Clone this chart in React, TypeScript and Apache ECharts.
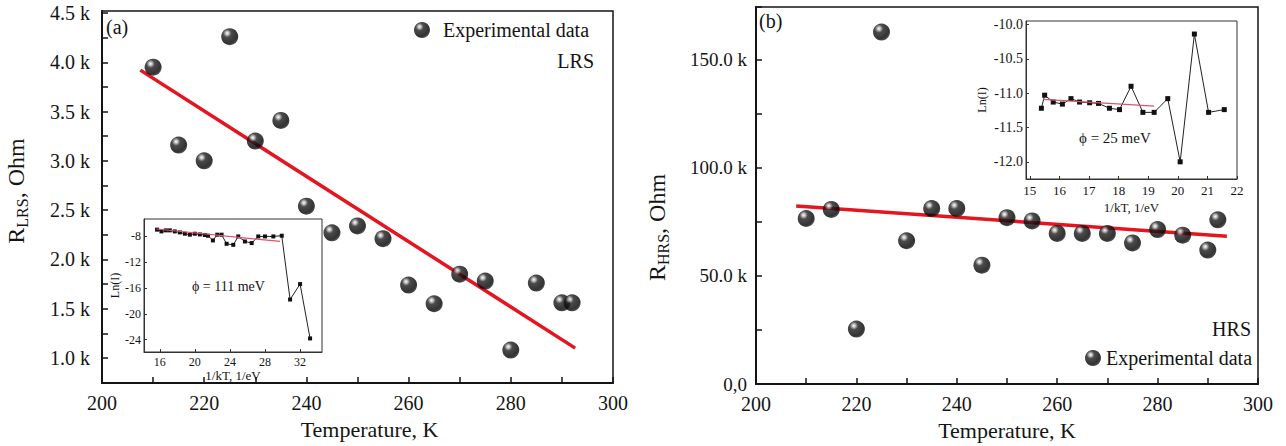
import React, { useEffect, useRef } from "react";
import * as echarts from "echarts";

// ---- Panel (a): LRS ----
const T_LRS = [210, 215, 220, 225, 230, 235, 240, 245, 250, 255, 260, 265, 270, 275, 280, 285, 290, 292];
const R_LRS = [3950, 3160, 3000, 4260, 3200, 3410, 2540, 2270, 2340, 2210, 1740, 1550, 1850, 1780, 1080, 1760, 1560, 1560];
const FIT_LRS_T = [207.5, 292.6];
const FIT_LRS_R = [3920, 1100];

// inset (a)
const INV_KT_A = [15.69, 16.19, 16.69, 17.14, 17.71, 18.29, 18.86, 19.43, 20.0, 20.57, 21.14, 21.49, 22.06, 22.55, 23.05, 23.62, 24.38, 24.95, 25.71, 26.48, 27.23, 28.0, 28.95, 29.91, 30.86, 32.0, 33.14];
const LNI_A = [-6.95, -7.22, -7.06, -7.06, -7.22, -7.38, -7.58, -7.73, -7.58, -7.69, -7.78, -7.89, -8.62, -7.73, -7.73, -9.14, -9.3, -8.0, -8.78, -9.03, -8.0, -8.0, -8.0, -7.89, -17.77, -15.38, -23.8];
const FIT_A_X = [15.62, 29.71];
const FIT_A_Y = [-6.85, -8.78];

// ---- Panel (b): HRS ----
const T_HRS = [210, 215, 220, 225, 230, 235, 240, 245, 250, 255, 260, 265, 270, 275, 280, 285, 290, 292];
const R_HRS = [76600, 80800, 25400, 162900, 66300, 81200, 81200, 55000, 77000, 75500, 69700, 69700, 69700, 65300, 71500, 68900, 62000, 76000];
const FIT_HRS_T = [208, 293.8];
const FIT_HRS_R = [82400, 68400];

// inset (b)
const INV_KT_B = [15.39, 15.5, 15.79, 16.1, 16.39, 16.68, 17.02, 17.32, 17.69, 18.03, 18.42, 18.82, 19.2, 19.66, 20.08, 20.56, 21.04, 21.57];
const LNI_B = [-11.22, -11.03, -11.13, -11.16, -11.08, -11.13, -11.14, -11.15, -11.22, -11.24, -10.9, -11.28, -11.28, -11.08, -12.0, -10.14, -11.28, -11.24];
const FIT_B_X = [15.45, 19.2];
const FIT_B_Y = [-11.09, -11.19];

// tick values
const LRS_LABELS = [1000, 1500, 2000, 2500, 3000, 3500, 4000, 4500];
const LRS_TICKS = [1000, 1250, 1500, 1750, 2000, 2250, 2500, 2750, 3000, 3250, 3500, 3750, 4000, 4250, 4500];
const INSET_A_X = [16, 20, 24, 28, 32];
const INSET_A_Y = [-24, -20, -16, -12, -8];
const INSET_B_X = [15, 16, 17, 18, 19, 20, 21, 22];
const INSET_B_Y = [-12.0, -11.5, -11.0, -10.5, -10.0];

const FONT = "'Liberation Serif', 'Times New Roman', serif";
const INK = "#141414";

const zip = (a: number[], b: number[]) => a.map((v, i) => [v, b[i]]);

const sphere = {
  type: "radial",
  x: 0.35,
  y: 0.3,
  r: 0.75,
  colorStops: [
    { offset: 0, color: "#ffffff" },
    { offset: 0.13, color: "#b0b0b0" },
    { offset: 0.32, color: "#1e1e1e" },
    { offset: 0.8, color: "#000000" },
    { offset: 1, color: "#2a2a2a" },
  ],
};

function mainX(grid: number) {
  return {
    type: "value",
    gridIndex: grid,
    min: 200,
    max: 300,
    interval: 10,
    name: "Temperature, K",
    nameLocation: "middle",
    nameGap: 35,
    nameTextStyle: { fontFamily: FONT, fontSize: 22, color: INK, padding: grid === 0 ? [0, 0, 0, 24] : 0 },
    axisLine: { show: true, onZero: false, lineStyle: { color: INK, width: 2 } },
    axisTick: { show: true, inside: true, length: 6, lineStyle: { color: INK, width: 1.5 } },
    axisLabel: {
      fontFamily: FONT,
      fontSize: 20,
      color: INK,
      margin: 10,
      showMaxLabel: true,
      formatter: (v: number) => (v % 20 === 0 ? String(v) : ""),
    },
    splitLine: { show: false },
  };
}

function insetAxisStyle(fs: number) {
  return {
    axisLine: { show: true, onZero: false, lineStyle: { color: "#333", width: 1 } },
    splitLine: { show: false },
    nameTextStyle: { fontFamily: FONT, fontSize: fs, color: INK },
  };
}

const richName = {
  a: { fontFamily: FONT, fontSize: 24, color: INK, lineHeight: 28 },
  b: { fontFamily: FONT, fontSize: 16, color: INK, lineHeight: 16, verticalAlign: "bottom" },
};

const option: any = {
  animation: false,
  backgroundColor: "#ffffff",
  textStyle: { fontFamily: FONT },
  grid: [
    { left: 102, top: 11, width: 511, height: 372, show: true, borderColor: INK, borderWidth: 1.5, backgroundColor: "transparent" },
    { left: 144, top: 219, width: 178, height: 133, show: true, borderColor: "#333", borderWidth: 1, backgroundColor: "#fff" },
    { left: 756, top: 7, width: 502, height: 377, show: true, borderColor: INK, borderWidth: 1.5, backgroundColor: "transparent" },
    { left: 1026, top: 21, width: 211, height: 158, show: true, borderColor: "#333", borderWidth: 1, backgroundColor: "#fff" },
  ],
  xAxis: [
    mainX(0),
    {
      type: "value",
      gridIndex: 1,
      min: 14.2,
      max: 34.5,
      name: "1/kT, 1/eV",
      nameLocation: "middle",
      nameGap: 16,
      ...insetAxisStyle(13),
      axisTick: { show: true, inside: true, length: 3, customValues: INSET_A_X, lineStyle: { color: "#333" } },
      axisLabel: { fontFamily: FONT, fontSize: 12, color: INK, margin: 4, customValues: INSET_A_X },
    },
    mainX(2),
    {
      type: "value",
      gridIndex: 3,
      min: 14.87,
      max: 22,
      name: "1/kT, 1/eV",
      nameLocation: "middle",
      nameGap: 22,
      ...insetAxisStyle(13),
      axisTick: { show: true, inside: true, length: 3, customValues: INSET_B_X, lineStyle: { color: "#333" } },
      axisLabel: { fontFamily: FONT, fontSize: 13, color: INK, margin: 5, customValues: INSET_B_X },
    },
  ],
  yAxis: [
    {
      type: "value",
      gridIndex: 0,
      min: 746,
      max: 4520,
      name: "{a|R}{b|LRS}{a|, Ohm}",
      nameLocation: "middle",
      nameRotate: 90,
      nameGap: 72,
      nameTextStyle: { color: INK, padding: [0, 0, 0, 12], rich: richName },
      axisLine: { show: true, onZero: false, lineStyle: { color: INK, width: 2 } },
      axisTick: { show: true, inside: true, length: 6, customValues: LRS_TICKS, lineStyle: { color: INK, width: 1.5 } },
      axisLabel: {
        fontFamily: FONT,
        fontSize: 20,
        color: INK,
        margin: 12,
        customValues: LRS_LABELS,
        formatter: (v: number) => (v / 1000).toFixed(1) + " k",
      },
      splitLine: { show: false },
    },
    {
      type: "value",
      gridIndex: 1,
      min: -25.9,
      max: -5.3,
      name: "Ln(I)",
      nameLocation: "middle",
      nameRotate: 90,
      nameGap: 20,
      ...insetAxisStyle(12),
      axisTick: { show: true, inside: true, length: 3, customValues: INSET_A_Y, lineStyle: { color: "#333" } },
      axisLabel: { fontFamily: FONT, fontSize: 12, color: INK, margin: 3, customValues: INSET_A_Y },
    },
    {
      type: "value",
      gridIndex: 2,
      min: 0,
      max: 174500,
      interval: 25000,
      name: "{a|R}{b|HRS}{a|, Ohm}",
      nameLocation: "middle",
      nameRotate: 90,
      nameGap: 85,
      nameTextStyle: { color: INK, padding: [0, 64, 0, 0], rich: richName },
      axisLine: { show: true, onZero: false, lineStyle: { color: INK, width: 2 } },
      axisTick: { show: true, inside: true, length: 6, lineStyle: { color: INK, width: 1.5 } },
      axisLabel: {
        fontFamily: FONT,
        fontSize: 19,
        color: INK,
        margin: 9,
        formatter: (v: number) => (v === 0 ? "0,0" : v % 50000 === 0 ? (v / 1000).toFixed(1) + " k" : ""),
      },
      splitLine: { show: false },
    },
    {
      type: "value",
      gridIndex: 3,
      min: -12.25,
      max: -9.95,
      name: "Ln(I)",
      nameLocation: "middle",
      nameRotate: 90,
      nameGap: 38,
      ...insetAxisStyle(12),
      axisTick: { show: true, inside: true, length: 3, customValues: INSET_B_Y, lineStyle: { color: "#333" } },
      axisLabel: {
        fontFamily: FONT,
        fontSize: 14,
        color: INK,
        margin: 3,
        customValues: INSET_B_Y,
        formatter: (v: number) => v.toFixed(1),
      },
    },
  ],
  legend: [
    {
      data: ["Experimental data"],
      left: 414,
      top: 20,
      padding: 0,
      icon: "circle",
      itemWidth: 16,
      itemHeight: 16,
      selectedMode: false,
      textStyle: { fontFamily: FONT, fontSize: 20, color: INK, lineHeight: 20, padding: [0, 0, 0, 8] },
    },
    {
      data: ["Experimental data"],
      left: 1085,
      top: 348,
      padding: 0,
      icon: "circle",
      itemWidth: 16,
      itemHeight: 16,
      selectedMode: false,
      textStyle: { fontFamily: FONT, fontSize: 20, color: INK, lineHeight: 20 },
    },
  ],
  series: [
    {
      name: "LRS fit",
      type: "line",
      xAxisIndex: 0,
      yAxisIndex: 0,
      data: zip(FIT_LRS_T, FIT_LRS_R),
      showSymbol: false,
      lineStyle: { color: "#e5141e", width: 3.5 },
      z: 2,
    },
    {
      name: "Experimental data",
      type: "scatter",
      xAxisIndex: 0,
      yAxisIndex: 0,
      data: zip(T_LRS, R_LRS),
      symbol: "circle",
      symbolSize: 17,
      itemStyle: { color: sphere },
      z: 3,
    },
    {
      name: "Inset a",
      type: "line",
      xAxisIndex: 1,
      yAxisIndex: 1,
      data: zip(INV_KT_A, LNI_A),
      symbol: "rect",
      symbolSize: 4,
      itemStyle: { color: "#111" },
      lineStyle: { color: "#222", width: 1 },
      z: 4,
    },
    {
      name: "Inset a fit",
      type: "line",
      xAxisIndex: 1,
      yAxisIndex: 1,
      data: zip(FIT_A_X, FIT_A_Y),
      showSymbol: false,
      lineStyle: { color: "#e2506a", width: 1.2 },
      z: 5,
    },
    {
      name: "HRS fit",
      type: "line",
      xAxisIndex: 2,
      yAxisIndex: 2,
      data: zip(FIT_HRS_T, FIT_HRS_R),
      showSymbol: false,
      lineStyle: { color: "#e5141e", width: 3.5 },
      z: 2,
    },
    {
      name: "Experimental data",
      type: "scatter",
      xAxisIndex: 2,
      yAxisIndex: 2,
      data: zip(T_HRS, R_HRS),
      symbol: "circle",
      symbolSize: 17,
      itemStyle: { color: sphere },
      z: 3,
    },
    {
      name: "Inset b",
      type: "line",
      xAxisIndex: 3,
      yAxisIndex: 3,
      data: zip(INV_KT_B, LNI_B),
      symbol: "rect",
      symbolSize: 5,
      itemStyle: { color: "#111" },
      lineStyle: { color: "#222", width: 1 },
      z: 4,
    },
    {
      name: "Inset b fit",
      type: "line",
      xAxisIndex: 3,
      yAxisIndex: 3,
      data: zip(FIT_B_X, FIT_B_Y),
      showSymbol: false,
      lineStyle: { color: "#e2506a", width: 1.2 },
      z: 5,
    },
  ],
  graphic: [
    { type: "text", left: 106, top: 17, style: { text: "(a)", font: `20px ${FONT}`, fill: INK } },
    { type: "text", right: 1286 - 594, top: 51, style: { text: "LRS", font: `20px ${FONT}`, fill: INK } },
    { type: "text", left: 192, top: 279, z: 10, style: { text: "ϕ = 111 meV", font: `14px ${FONT}`, fill: INK } },
    { type: "text", left: 759, top: 11, style: { text: "(b)", font: `20px ${FONT}`, fill: INK } },
    { type: "text", right: 1286 - 1251, top: 319, style: { text: "HRS", font: `20px ${FONT}`, fill: INK } },
    { type: "text", left: 1079, top: 130, z: 10, style: { text: "ϕ = 25 meV", font: `15px ${FONT}`, fill: INK } },
  ],
};

export default function App() {
  const ref = useRef<HTMLDivElement>(null);
  useEffect(() => {
    if (!ref.current) return;
    const chart = echarts.init(ref.current, null, { renderer: "svg" });
    chart.setOption(option);
    return () => chart.dispose();
  }, []);
  return (
    <div
      ref={ref}
      style={{ position: "absolute", left: 0, top: 0, width: 1286, height: 446, background: "#fff" }}
    />
  );
}
